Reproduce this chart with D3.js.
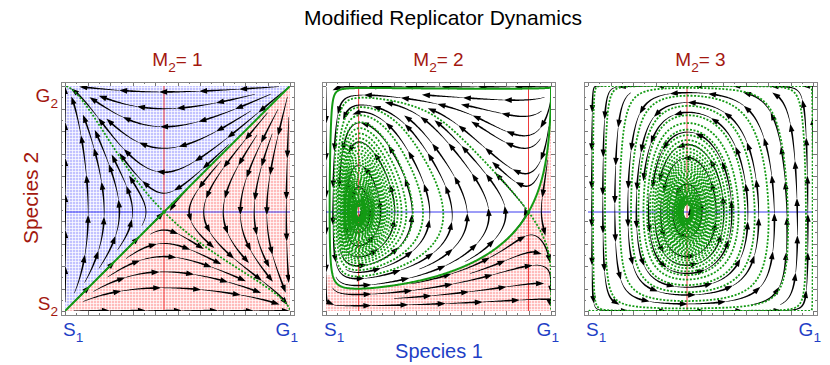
<!DOCTYPE html>
<html>
<head>
<meta charset="utf-8">
<script src="https://cdn.jsdelivr.net/npm/d3@7"></script>
<style>
body { margin: 0; background: #fff; }
</style>
</head>
<body>
<div id="chart"></div>
<script>
const width = 830;
const height = 365;

// ---- data ----
const title = "Modified Replicator Dynamics";
const m2Values = [1, 2, 3];
const yNull = [0.44, 0.44, 0.44];               // dx/dt = 0 (blue line)
const xNull = [[0.44], [0.145, 0.9], [0.44]];   // dy/dt = 0 (red lines)
const centerX = [null, 0.145, 0.44];
const gSign = [-1, -1, 1];
const gScale = [1, 1.5, 3.5];
const fitnessBase1 = [0.04, 0.03, 0.05];        // background fitness, species 1
const fitnessBase2 = [0.04, 0.1, 0.05];         // background fitness, species 2
const fitnessMix2 = [1, 0, 1];                  // weight of own strategy in species 2 fitness
const fitnessTop2 = [0, 2, 0];                  // extra species 2 fitness when nearly all generous
const damping = [0, 0.1, 0.045];
const dampProfile = [0.3, 45, 2];               // base, growth with distance, cap
const holeHalf = [0, 0.011, 0.018];
const orbitStart = [null, null, [0.004, 0.004]];
const shading = ["split", "basin", "none"];
const xLabels = ["S", "G"];
const yLabels = ["S", "G"];
const majorTicks = d3.range(0, 1.0001, 0.1);
const minorTicks = d3.range(0.05, 1, 0.1);

const frameX = [61, 322, 584];
const frameY = 82;
const frameSize = 233;
const pad = 4;
const S = frameSize - 2 * pad;

const darkRed = "#a3180f";
const blue = "#1f3fc6";
const green = "#139a13";

const svg = d3.select("#chart")
    .append("svg")
    .attr("width", width)
    .attr("height", height)
    .style("font-family", "'Liberation Sans', Arial, sans-serif");

const defs = svg.append("defs");
function gridPattern(id, base) {
    const p = defs.append("pattern").attr("id", id)
        .attr("width", 3).attr("height", 3).attr("patternUnits", "userSpaceOnUse");
    p.append("rect").attr("width", 3).attr("height", 3).attr("fill", base);
    p.append("rect").attr("width", 3).attr("height", 1).attr("fill", "#fff").attr("fill-opacity", 0.7);
    p.append("rect").attr("width", 1).attr("height", 3).attr("fill", "#fff").attr("fill-opacity", 0.7);
}
gridPattern("pinkGrid", "#ffbcbc");
gridPattern("blueGrid", "#c2c2ff");

// vector field of panel i, in data coordinates
function makeField(i) {
    const ys = yNull[i], roots = xNull[i], s = gSign[i], k = gScale[i];
    const m1 = fitnessBase1[i], m2 = fitnessBase2[i], q = fitnessMix2[i], c2 = fitnessTop2[i];
    const eps = damping[i], cx = centerX[i];
    const [d0, d1, dmax] = dampProfile;
    const f = y => ys - y;
    const g = x => s * k * roots.reduce((p, r) => p * (x - r), 1);
    return (x, y) => {
        const w1 = m1 + x * ys + (1 - x) * y;
        const w2 = m2 + x * (1 - y) + q * y * ys + c2 * x * y ** 20;
        let vx = x * (1 - x) * f(y) / w1, vy = y * (1 - y) * g(x) / w2;
        if (eps) {
            const r2 = (x - cx) ** 2 + (y - ys) ** 2;
            const e = eps * Math.min(dmax, d0 + d1 * r2 * r2);
            vx -= e * x * (1 - x) * g(x);
            vy += e * y * (1 - y) * f(y);
        }
        return [vx, vy];
    };
}

function unitDir(field) {
    return (x, y) => {
        const v = field(x, y), n = Math.hypot(v[0], v[1]);
        return n > 1e-15 ? [v[0] / n, v[1] / n] : null;
    };
}

function rk2(dir, p, h) {
    const a = dir(p[0], p[1]);
    if (!a) return null;
    const b = dir(p[0] + a[0] * h / 2, p[1] + a[1] * h / 2);
    if (!b) return null;
    return [p[0] + b[0] * h, p[1] + b[1] * h];
}

const inside = p => p[0] >= 0 && p[0] <= 1 && p[1] >= 0 && p[1] <= 1;

// evenly spaced streamlines (Jobard & Lefer)
function evenStreamlines(dir, dsep, dtest, h, minLen) {
    const n = Math.ceil(1 / dsep) + 1;
    const grid = Array.from({ length: n * n }, () => []);
    const key = (x, y) => Math.min(n - 1, Math.max(0, Math.floor(x / dsep))) +
        n * Math.min(n - 1, Math.max(0, Math.floor(y / dsep)));
    function blocked(x, y, d, id, s) {
        const ci = Math.floor(x / dsep), cj = Math.floor(y / dsep);
        for (let a = ci - 1; a <= ci + 1; a++) for (let b = cj - 1; b <= cj + 1; b++) {
            if (a < 0 || b < 0 || a >= n || b >= n) continue;
            for (const q of grid[a + n * b]) {
                if (q.id === id && Math.abs(q.s - s) < 2.5 * dsep) continue;
                const dx = q.x - x, dy = q.y - y;
                if (dx * dx + dy * dy < d * d) return true;
            }
        }
        return false;
    }
    const lines = [];
    let nextId = 0;
    function trace(seed) {
        if (!inside(seed) || !dir(seed[0], seed[1]) || blocked(seed[0], seed[1], dsep, -1, 0)) return null;
        const id = nextId++, added = [];
        const put = (p, s) => {
            const q = { x: p[0], y: p[1], id, s };
            grid[key(p[0], p[1])].push(q);
            added.push(q);
        };
        put(seed, 0);
        const halves = [];
        for (const sg of [1, -1]) {
            const out = [];
            let p = seed, s = 0, prev = null;
            for (let k = 0; k < 4000; k++) {
                const q = rk2(dir, p, sg * h);
                if (!q || !inside(q)) break;
                const d = [q[0] - p[0], q[1] - p[1]];
                if (prev && d[0] * prev[0] + d[1] * prev[1] < 0) break;
                s += sg * h;
                if (blocked(q[0], q[1], dtest, id, s)) break;
                out.push(q); put(q, s); prev = d; p = q;
            }
            halves.push(out);
        }
        const line = halves[1].reverse().concat([seed], halves[0]);
        if ((line.length - 1) * h < minLen) {
            added.forEach(q => { const c = grid[key(q.x, q.y)]; c.splice(c.indexOf(q), 1); });
            return null;
        }
        lines.push(line);
        return line;
    }
    const queue = [], fallback = [];
    for (let j = 0; j < n; j++) for (let i = 0; i < n; i++) fallback.push([(i + 0.5) * dsep, (j + 0.5) * dsep]);
    while (queue.length || fallback.length) {
        const seed = queue.length ? queue.shift() : fallback.shift();
        const line = trace(seed);
        if (!line) continue;
        for (let k = 0; k + 1 < line.length; k += 4) {
            const dx = line[k + 1][0] - line[k][0], dy = line[k + 1][1] - line[k][1], L = Math.hypot(dx, dy);
            if (!L) continue;
            const nx = -dy / L * dsep, ny = dx / L * dsep;
            queue.push([line[k][0] + nx, line[k][1] + ny], [line[k][0] - nx, line[k][1] - ny]);
        }
    }
    return lines;
}

function traceCurve(dir, start, sg, h, maxSteps, stop) {
    const pts = [start];
    let p = start, prev = null;
    for (let k = 0; k < maxSteps; k++) {
        const q = rk2(dir, p, sg * h);
        if (!q || !inside(q)) break;
        const d = [q[0] - p[0], q[1] - p[1]];
        if (prev && d[0] * prev[0] + d[1] * prev[1] < 0) break;
        if (stop && stop(p, q)) break;
        pts.push(q); prev = d; p = q;
    }
    return pts;
}

function jacobian(field, p) {
    const e = 1e-6;
    const a1 = field(p[0] + e, p[1]), a0 = field(p[0] - e, p[1]);
    const b1 = field(p[0], p[1] + e), b0 = field(p[0], p[1] - e);
    return [[(a1[0] - a0[0]) / (2 * e), (b1[0] - b0[0]) / (2 * e)],
            [(a1[1] - a0[1]) / (2 * e), (b1[1] - b0[1]) / (2 * e)]];
}

// tapered streamline pieces, each ending in an arrowhead
function drawStream(g, line, x, y) {
    const pts = line.map(d => [x(d[0]), y(d[1])]);
    const cum = [0];
    for (let k = 1; k < pts.length; k++)
        cum.push(cum[k - 1] + Math.hypot(pts[k][0] - pts[k - 1][0], pts[k][1] - pts[k - 1][1]));
    const L = cum[cum.length - 1];
    const at = s => {
        const k = Math.max(1, Math.min(pts.length - 1, d3.bisectLeft(cum, s)));
        const t = (s - cum[k - 1]) / ((cum[k] - cum[k - 1]) || 1);
        return [pts[k - 1][0] + t * (pts[k][0] - pts[k - 1][0]), pts[k - 1][1] + t * (pts[k][1] - pts[k - 1][1])];
    };
    const nA = Math.max(1, Math.round(L / 38));
    const gap = L / nA;
    const headLen = 8, hw = 2.8;
    let s0 = 0;
    for (let j = 1; j <= nA; j++) {
        const s1 = j * gap, sEnd = Math.max(s0, s1 - headLen * 0.8);
        const ss = [s0];
        for (let k = 0; k < cum.length; k++) if (cum[k] > s0 && cum[k] < sEnd) ss.push(cum[k]);
        ss.push(sEnd);
        const left = [], right = [];
        ss.forEach(s => {
            const p = at(s), pa = at(Math.max(0, s - 1)), pb = at(Math.min(L, s + 1));
            const tx = pb[0] - pa[0], ty = pb[1] - pa[1];
            const tl = Math.hypot(tx, ty) || 1;
            const w = 0.25 + 0.65 * (s - s0) / ((sEnd - s0) || 1);
            left.push([p[0] - ty / tl * w, p[1] + tx / tl * w]);
            right.push([p[0] + ty / tl * w, p[1] - tx / tl * w]);
        });
        g.append("path").attr("d", "M" + left.concat(right.reverse()).map(p => p.join(",")).join("L") + "Z")
            .attr("fill", "#000");
        const tip = at(s1), base = at(Math.max(0, s1 - headLen));
        let dx = tip[0] - base[0], dy = tip[1] - base[1];
        const dl = Math.hypot(dx, dy) || 1;
        dx /= dl; dy /= dl;
        const b = [tip[0] - dx * headLen, tip[1] - dy * headLen];
        g.append("path")
            .attr("d", `M${tip[0]},${tip[1]}L${b[0] - dy * hw},${b[1] + dx * hw}L${b[0] + dy * hw},${b[1] - dx * hw}Z`)
            .attr("fill", "#000");
        s0 = s1;
    }
}

// title
svg.append("text")
    .attr("x", 443).attr("y", 25)
    .attr("text-anchor", "middle")
    .attr("font-size", 21)
    .attr("fill", "#000")
    .text(title);

function subText(x0, y0, main, sub, size, color, anchor, rest) {
    const t = svg.append("text").attr("x", x0).attr("y", y0)
        .attr("fill", color).attr("font-size", size).attr("text-anchor", anchor);
    t.append("tspan").text(main);
    t.append("tspan").attr("font-size", size * 0.72).attr("dy", size * 0.3).text(sub);
    if (rest) t.append("tspan").attr("dy", -size * 0.3).text(rest);
    return t;
}

m2Values.forEach((m2, i) => {
    const fx = frameX[i];
    const x = d3.scaleLinear().domain([0, 1]).range([fx + pad, fx + frameSize - pad]);
    const y = d3.scaleLinear().domain([0, 1]).range([frameY + frameSize - pad, frameY + pad]);
    const field = makeField(i);
    const dir = unitDir(field);
    const line = d3.line().x(d => x(d[0])).y(d => y(d[1]));

    const g = svg.append("g");
    defs.append("clipPath").attr("id", "clip" + i)
        .append("rect").attr("x", x(0)).attr("y", y(1)).attr("width", S).attr("height", S);
    const plot = g.append("g").attr("clip-path", `url(#clip${i})`);

    // fixed points and separatrices
    const centers = [], saddles = [];
    xNull[i].forEach(xc => {
        const p = [xc, yNull[i]];
        const J = jacobian(field, p);
        const tr = J[0][0] + J[1][1], det = J[0][0] * J[1][1] - J[0][1] * J[1][0];
        if (det < 0) {
            const r = Math.sqrt(tr * tr - 4 * det);
            const ev = [(tr + r) / 2, (tr - r) / 2].map(l => {
                const v = [J[0][1], l - J[0][0]], n = Math.hypot(v[0], v[1]);
                return { l, v: [v[0] / n, v[1] / n] };
            });
            saddles.push({ p, ev });
        } else centers.push(p);
    });

    const h = 0.5 / S;
    function centerStop(p, q) {
        for (const c of centers) {
            if (p[0] > c[0] && q[0] > c[0] && (p[1] - c[1]) * (q[1] - c[1]) < 0 && q[0] - c[0] < holeHalf[i]) return true;
        }
        return false;
    }
    const solid = [], dashed = [];
    saddles.forEach(sd => {
        sd.ev.forEach(e => {
            [1, -1].forEach(sg => {
                const start = [sd.p[0] + sg * e.v[0] * 1e-3, sd.p[1] + sg * e.v[1] * 1e-3];
                if (e.l < 0) solid.push([sd.p].concat(traceCurve(dir, start, -1, h, 20000)));
                else dashed.push([sd.p].concat(traceCurve(dir, start, 1, h, 300000, centerStop)));
            });
        });
    });
    if (orbitStart[i]) dashed.push(traceCurve(dir, orbitStart[i], 1, h, 400000, centerStop));

    // shaded regions
    if (shading[i] === "split" && solid.length === 2) {
        let full = solid[0].slice().reverse().concat(solid[1]);
        if (full[0][0] > 0.5) full.reverse();
        full = [[0, 0]].concat(full, [[1, 1]]);
        plot.append("path").attr("d", line(full.concat([[0, 1]])) + "Z").attr("fill", "url(#blueGrid)");
        plot.append("path").attr("d", line(full.concat([[1, 0]])) + "Z").attr("fill", "url(#pinkGrid)");
    } else if (shading[i] === "basin" && solid.length === 2) {
        const byLen = solid.slice().sort((a, b) => b.length - a.length);
        const cut = byLen[0].findIndex(d => d[0] < 0.03);
        const lower = byLen[0].slice(0, cut > 0 ? cut : byLen[0].length);
        const last = lower[lower.length - 1];
        const region = lower.concat([[0, last[1]], [0, 0], [1, 0], [1, 1]], byLen[1].slice().reverse());
        plot.append("path").attr("d", line(region) + "Z").attr("fill", "url(#pinkGrid)");
    }

    // nullclines
    xNull[i].forEach(xc => {
        plot.append("line").attr("x1", x(xc)).attr("x2", x(xc)).attr("y1", y(0)).attr("y2", y(1))
            .attr("stroke", "#ef3b3b").attr("stroke-width", 1);
    });
    plot.append("line").attr("x1", x(0)).attr("x2", x(1)).attr("y1", y(yNull[i])).attr("y2", y(yNull[i]))
        .attr("stroke", "#3b3bef").attr("stroke-width", 1);

    // streamlines
    const streams = evenStreamlines(dir, 12.5 / S, 6 / S, 1 / S, 22 / S);
    const sg = plot.append("g");
    streams.forEach(l => drawStream(sg, l, x, y));

    // separatrices and long orbits
    const thin = pts => pts.filter((d, k) => k % 2 === 0 || k === pts.length - 1);
    dashed.forEach(c => plot.append("path").attr("d", line(thin(c)))
        .attr("fill", "none").attr("stroke", green).attr("stroke-width", 1.8)
        .attr("stroke-dasharray", "2,1.6"));
    solid.forEach(c => plot.append("path").attr("d", line(thin(c)))
        .attr("fill", "none").attr("stroke", green).attr("stroke-width", 2));

    // frame and ticks
    const fb = frameY + frameSize, fr = fx + frameSize;
    [[d3.axisBottom(x), `translate(0,${fb})`], [d3.axisTop(x), `translate(0,${frameY})`],
     [d3.axisLeft(y), `translate(${fx},0)`], [d3.axisRight(y), `translate(${fr},0)`]].forEach(([ax, tf]) => {
        [[majorTicks, 4], [minorTicks, 2]].forEach(([vals, len]) => {
            g.append("g").attr("transform", tf)
                .call(ax.tickValues(vals).tickSize(-len).tickFormat(""))
                .call(a => a.select(".domain").remove())
                .selectAll("line").attr("stroke", "#777").attr("shape-rendering", "crispEdges");
        });
    });
    g.append("rect").attr("x", fx + 0.5).attr("y", frameY + 0.5)
        .attr("width", frameSize).attr("height", frameSize)
        .attr("fill", "none").attr("stroke", "#888").attr("stroke-width", 1);

    // labels
    subText(fx + frameSize / 2, 66, "M", "2", 19, darkRed, "middle", "= " + m2);
    subText(fx + 2, 336, xLabels[0], "1", 19, blue, "start");
    subText(fr + 4, 336, xLabels[1], "1", 19, blue, "end");
});

subText(58, 102, yLabels[1], "2", 19, darkRed, "end");
subText(58, 310, yLabels[0], "2", 19, darkRed, "end");

svg.append("text")
    .attr("transform", "translate(38,198) rotate(-90)")
    .attr("text-anchor", "middle")
    .attr("font-size", 21)
    .attr("fill", darkRed)
    .text("Species 2");

svg.append("text")
    .attr("x", 439).attr("y", 358)
    .attr("text-anchor", "middle")
    .attr("font-size", 20)
    .attr("fill", blue)
    .text("Species 1");
</script>
</body>
</html>
